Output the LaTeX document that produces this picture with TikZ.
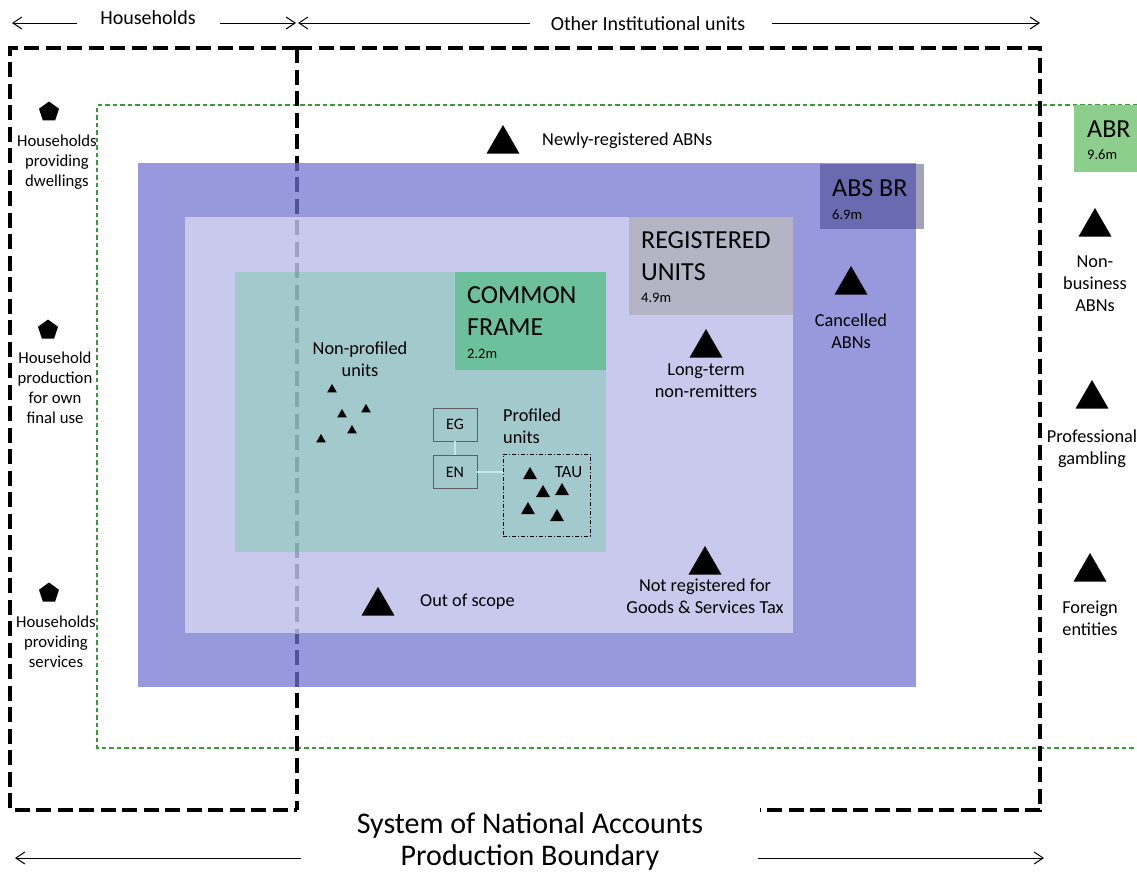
\documentclass[tikz,border=0pt]{standalone}
\usepackage{fontspec}
\setmainfont{Carlito}
\usetikzlibrary{shapes.geometric,arrows.meta}
\definecolor{purp}{RGB}{152,152,220}
\definecolor{dkpurp}{RGB}{106,106,176}
\definecolor{extgray}{RGB}{162,162,184}
\definecolor{lav}{RGB}{201,201,238}
\definecolor{reggray}{RGB}{180,180,196}
\definecolor{teal1}{RGB}{162,202,205}
\definecolor{cfgreen}{RGB}{108,192,156}
\definecolor{abrgreen}{RGB}{141,206,141}
\definecolor{dashgreen}{RGB}{58,154,58}
\definecolor{lnpurp}{RGB}{82,82,152}
\definecolor{lnlav}{RGB}{160,160,196}
\definecolor{lnteal}{RGB}{128,168,174}
\definecolor{boxgray}{RGB}{96,96,96}
\definecolor{conn}{RGB}{200,232,232}
\begin{document}
\begin{tikzpicture}[x=1pt,y=-1pt,
  tri/.style={regular polygon, regular polygon sides=3, fill=black, draw=none, inner sep=0pt, minimum size=38pt},
  smalltri/.style={tri, minimum size=11pt},
  midtri/.style={tri, minimum size=16pt},
  penta/.style={regular polygon, regular polygon sides=5, fill=black, inner sep=0pt, minimum size=21pt},
  lbl/.style={font=\fontsize{18.3}{22}\selectfont, align=center, inner sep=0pt, anchor=base},
  sidelbl/.style={font=\fontsize{16.7}{20}\selectfont, align=center, inner sep=0pt, anchor=base},
  bigt/.style={font=\fontsize{26}{32}\selectfont, align=left, inner sep=0pt, anchor=base west},
  sizet/.style={font=\fontsize{14.5}{17}\selectfont, inner sep=0pt, anchor=base west},
  hdr/.style={font=\fontsize{20}{24}\selectfont, inner sep=0pt, anchor=base},
  bnd/.style={font=\fontsize{30}{32}\selectfont, align=center, inner sep=0pt, anchor=base},
  bigdash/.style={line width=4pt, dash pattern=on 15pt off 6.5pt},
  greendash/.style={draw=dashgreen, line width=1.3pt, dash pattern=on 4.5pt off 3pt},
  hdrarrow/.style={line width=1pt, -{Straight Barb[length=9pt,width=12pt]}},
  unitbox/.style={draw=boxgray, line width=0.8pt, minimum width=44pt, minimum height=33pt, inner sep=0pt, font=\fontsize{16}{19}\selectfont},
  taubox/.style={draw=black, line width=0.8pt, dash pattern=on 4pt off 2pt on 1pt off 2pt, minimum width=87pt, minimum height=82pt, inner sep=0pt},
  connline/.style={draw=conn, line width=2pt}
]
\useasboundingbox (0,0) rectangle (1137,873);

% green dashed ABR boundary
\draw[greendash] (1137,105) -- (97,105) -- (97,748) -- (1137,748);
\fill[abrgreen] (1074,105) rectangle (1137,172);

% fills
\fill[purp] (138,163) rectangle (916,687);
\fill[extgray] (820,164) rectangle (924,229);
\fill[dkpurp] (820,164) rectangle (916,229);
\fill[lav] (185,217) rectangle (793,633);
\fill[reggray] (629,217) rectangle (793,315);
\fill[teal1] (235,272) rectangle (606,552);
\fill[cfgreen] (455,272) rectangle (606,370);

% big dashed boundaries
\draw[bigdash] (297,48) -- (10,48) -- (10,810) -- (297,810);
\draw[bigdash] (297,48) -- (1040,48) -- (1040,810) -- (760,810);
\draw[bigdash] (297,48) -- (297,810);
\begin{scope}
  \clip (138,163) rectangle (916,687);
  \draw[bigdash, draw=lnpurp, line width=4.4pt] (297,48) -- (297,810);
\end{scope}
\begin{scope}
  \clip (185,217) rectangle (793,633);
  \draw[bigdash, draw=lnlav, line width=4.4pt] (297,48) -- (297,810);
\end{scope}
\begin{scope}
  \clip (235,272) rectangle (606,552);
  \draw[bigdash, draw=lnteal, line width=4.4pt] (297,48) -- (297,810);
\end{scope}

% header arrows
\coordinate (hL1) at (77,23); \coordinate (hL2) at (12,23);
\coordinate (hR1) at (220,23); \coordinate (hR2) at (296,23);
\coordinate (oL1) at (530,23); \coordinate (oL2) at (298,23);
\coordinate (oR1) at (772,23); \coordinate (oR2) at (1040,23);
\draw[hdrarrow] (hL1) -- (hL2);
\draw[hdrarrow] (hR1) -- (hR2);
\draw[hdrarrow] (oL1) -- (oL2);
\draw[hdrarrow] (oR1) -- (oR2);
\node[hdr] (hh) at (148,24) {Households};
\node[hdr] (oiu) at (648,30) {Other Institutional units};

% bottom arrows and label
\coordinate (bL1) at (301,858); \coordinate (bL2) at (15,858);
\coordinate (bR1) at (758,858); \coordinate (bR2) at (1044,858);
\draw[hdrarrow] (bL1) -- (bL2);
\draw[hdrarrow] (bR1) -- (bR2);
\node[bnd] (sna) at (530,865) {System of National Accounts\\Production Boundary};

% titles
\node[bigt] (abr) at (1087,137) {ABR};
\node[sizet] (abrn) at (1087,159) {9.6m};
\node[bigt] (absbr) at (832,196) {ABS BR};
\node[sizet] (absbrn) at (832,219) {6.9m};
\node[bigt] (reg) at (641,280) {REGISTERED\\UNITS};
\node[sizet] (regn) at (641,302) {4.9m};
\node[bigt] (cf) at (467,335) {COMMON\\FRAME};
\node[sizet] (cfn) at (467,358) {2.2m};

% household column
\node[penta] (p1) at (49,112) {};
\node[sidelbl] (t1) at (57,186) {Households\\providing\\dwellings};
\node[penta] (p2) at (48,330) {};
\node[sidelbl] (t2) at (55,423) {Household\\production\\for own\\final use};
\node[penta] (p3) at (49,593) {};
\node[sidelbl] (t3) at (56,667) {Households\\providing\\services};

% right column
\node[tri] (r1) at (1095,227) {};
\node[lbl] (rt1) at (1095,311) {Non-\\business\\ABNs};
\node[tri] (r2) at (1092,399) {};
\node[lbl] (rt2) at (1092,464) {Professional\\gambling};
\node[tri] (r3) at (1090,572) {};
\node[lbl] (rt3) at (1090,635) {Foreign\\entities};

% interior labels
\node[tri] (nr) at (503,144) {};
\node[lbl, anchor=base west] (nrt) at (542,145) {Newly-registered ABNs};
\node[tri] (ca) at (851,285) {};
\node[lbl] (cat) at (851,348) {Cancelled\\ABNs};
\node[tri] (lt) at (706,348) {};
\node[lbl] (ltt) at (706,397) {Long-term\\non-remitters};
\node[tri] (ng) at (705,565) {};
\node[lbl] (ngt) at (705,613) {Not registered for\\Goods \& Services Tax};
\node[tri] (os) at (378,606) {};
\node[lbl, anchor=base west] (ost) at (420,606) {Out of scope};

% non-profiled
\node[lbl] (npt) at (360,376) {Non-profiled\\units};
\node[smalltri] (np1) at (332,389.5) {};
\node[smalltri] (np2) at (342,414.5) {};
\node[smalltri] (np3) at (366,409.5) {};
\node[smalltri] (np4) at (352,430.5) {};
\node[smalltri] (np5) at (321,439.5) {};

% profiled
\node[lbl, anchor=base west, align=left] (pt) at (503,443) {Profiled\\units};
\node[unitbox] (eg) at (455,424.5) {EG};
\node[unitbox] (en) at (455,472) {EN};
\node[taubox] (tau) at (546.5,495) {};
\draw[connline] (eg.south) -- (en.north);
\draw[connline] (en.east) -- (en.east -| tau.west);
\node[font=\fontsize{17}{20}\selectfont, inner sep=0pt, anchor=base] (taut) at (568.5,477) {TAU};
\node[midtri] (ta1) at (530,475) {};
\node[midtri] (ta2) at (543,493) {};
\node[midtri] (ta3) at (562,491) {};
\node[midtri] (ta4) at (528,510) {};
\node[midtri] (ta5) at (557,517) {};
\end{tikzpicture}
\end{document}
